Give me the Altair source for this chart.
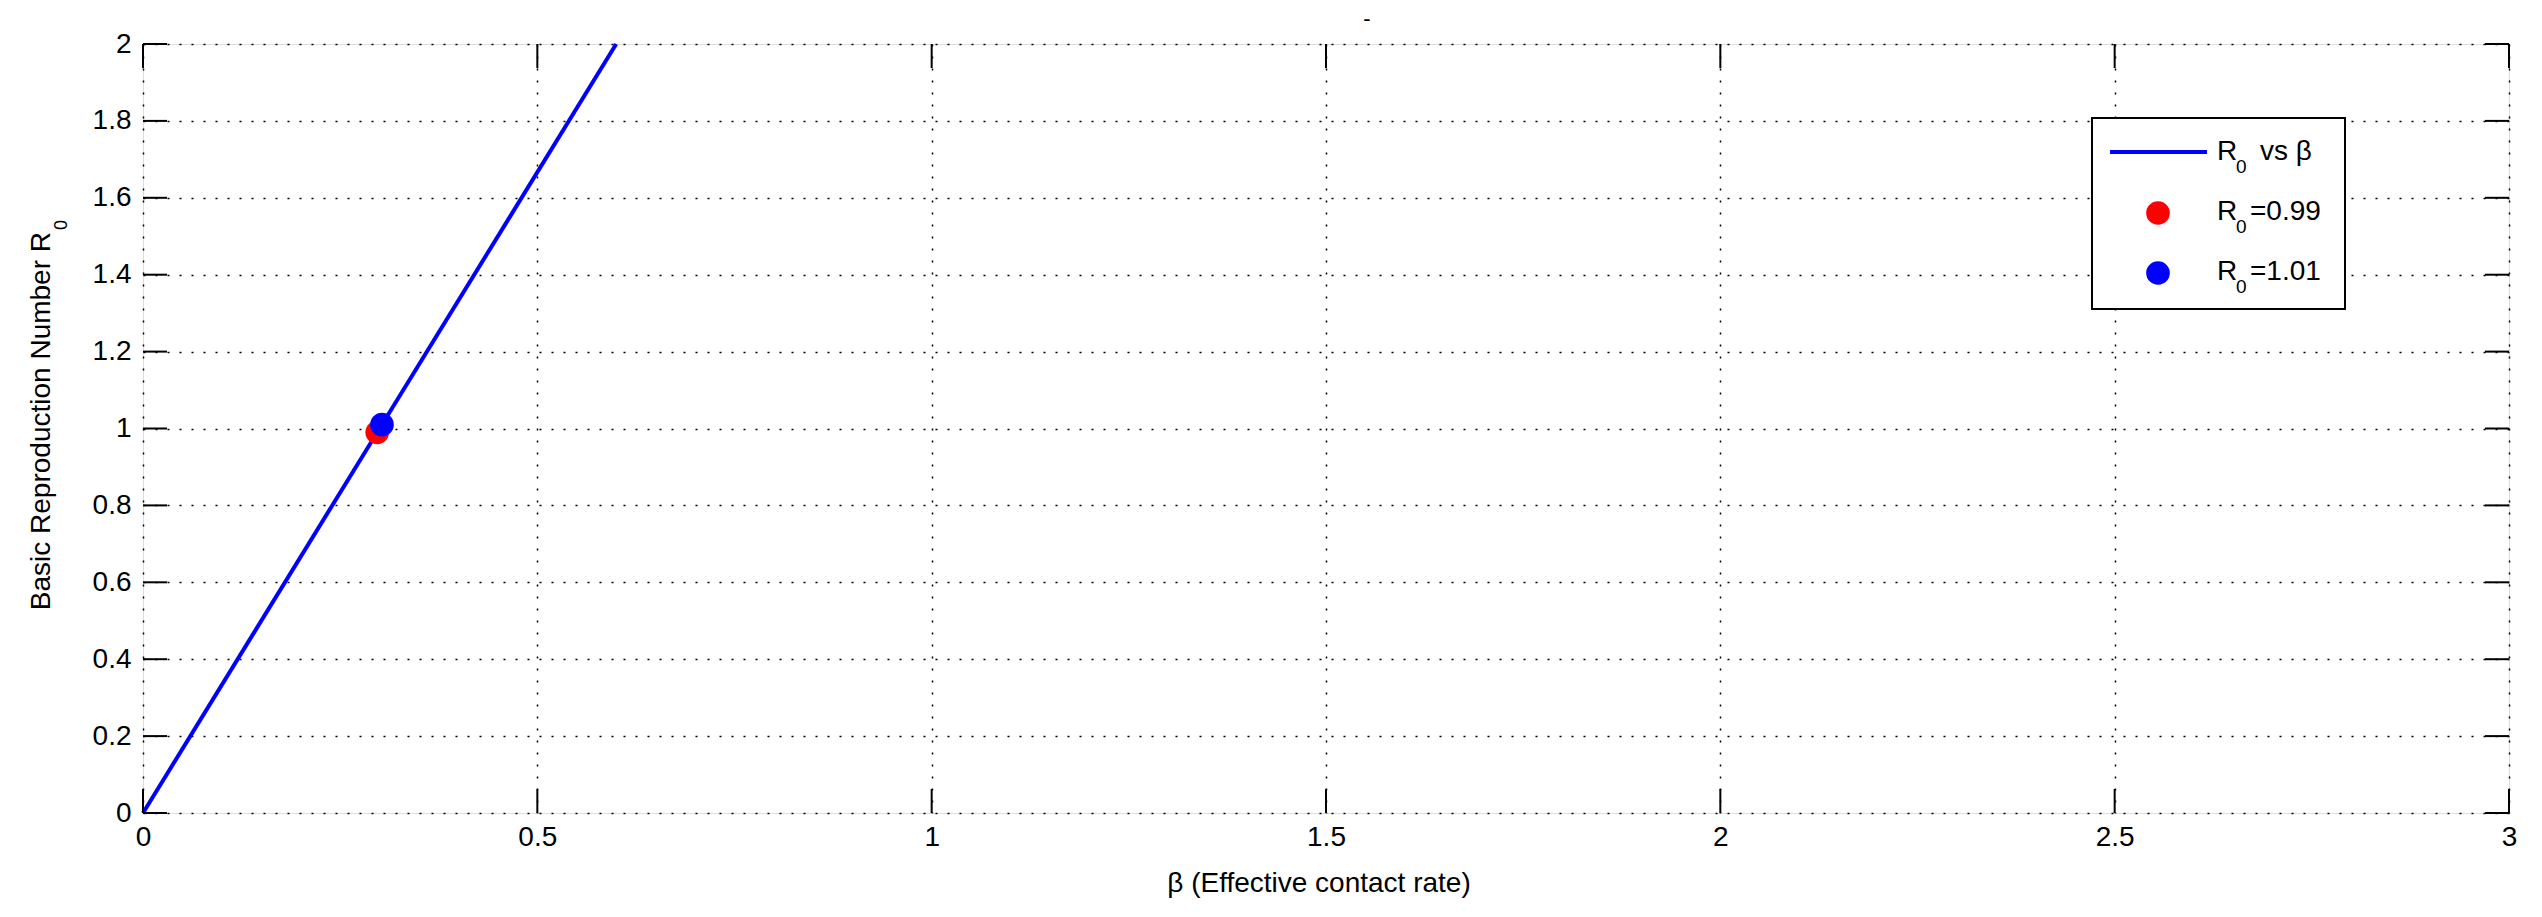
import altair as alt
import pandas as pd

# ---- data ----
beta_line = [0.0, 0.3, 0.6]
r0_line = [0.0, 1.0, 2.0]
pt_beta = [0.297, 0.303]
pt_r0 = [0.99, 1.01]
pt_label = ["R0=0.99", "R0=1.01"]
pt_color = ["#ff0000", "#0000ff"]
x_ticks = [0, 0.5, 1, 1.5, 2, 2.5, 3]
y_ticks = [0, 0.2, 0.4, 0.6, 0.8, 1, 1.2, 1.4, 1.6, 1.8, 2]

W, H = 2366, 769
FONT = "Liberation Sans"
FS = 28

line_df = pd.DataFrame({"beta": beta_line, "r0": r0_line})
pts_df = pd.DataFrame({"beta": pt_beta, "r0": pt_r0, "label": pt_label, "color": pt_color})
xt_df = pd.DataFrame({"v": x_ticks})
yt_df = pd.DataFrame({"v": y_ticks})
one = pd.DataFrame({"d": [0]})

xscale = alt.Scale(domain=[0, 3], nice=False, zero=False)
yscale = alt.Scale(domain=[0, 2], nice=False, zero=False)

xaxis = alt.Axis(values=x_ticks, title=None, ticks=False, domain=False, labelPadding=10,
                 grid=True, gridColor="black", gridDash=[2, 10], gridWidth=1.5, gridOpacity=1,
                 labelFont=FONT, labelFontSize=FS, labelColor="black", labelFlush=False,
                 labelExpr="format(datum.value, '~g')")
yaxis = alt.Axis(values=y_ticks, title=None, ticks=False, domain=False, labelPadding=12,
                 grid=True, gridColor="black", gridDash=[2, 10], gridWidth=1.5, gridOpacity=1,
                 labelFont=FONT, labelFontSize=FS, labelColor="black", labelFlush=False,
                 labelExpr="format(datum.value, '~g')")

base_line = alt.Chart(line_df).mark_line(color="#0000ff", strokeWidth=4).encode(
    x=alt.X("beta:Q", scale=xscale, axis=xaxis),
    y=alt.Y("r0:Q", scale=yscale, axis=yaxis),
)

points = alt.Chart(pts_df).mark_point(filled=True, opacity=1, size=560).encode(
    x=alt.X("beta:Q", scale=xscale),
    y=alt.Y("r0:Q", scale=yscale),
    color=alt.Color("color:N", scale=None, legend=None),
)

# inward tick marks on all four sides
tick_len = 24
xt_bot = alt.Chart(xt_df).mark_rule(color="black", strokeWidth=2).encode(
    x=alt.X("v:Q", scale=xscale), y=alt.value(H), y2=alt.value(H - tick_len))
xt_top = alt.Chart(xt_df).mark_rule(color="black", strokeWidth=2).encode(
    x=alt.X("v:Q", scale=xscale), y=alt.value(0), y2=alt.value(tick_len))
yt_left = alt.Chart(yt_df).mark_rule(color="black", strokeWidth=2).encode(
    y=alt.Y("v:Q", scale=yscale), x=alt.value(0), x2=alt.value(tick_len))
yt_right = alt.Chart(yt_df).mark_rule(color="black", strokeWidth=2).encode(
    y=alt.Y("v:Q", scale=yscale), x=alt.value(W), x2=alt.value(W - tick_len))


def txt(s, x, y, size=FS, align="left", angle=0, baseline="alphabetic"):
    return alt.Chart(one).mark_text(font=FONT, fontSize=size, align=align, baseline=baseline,
                                    angle=angle, color="black").encode(
        x=alt.value(x), y=alt.value(y), text=alt.value(s))


# titles
title = txt("-", 1224, -25, size=22, align="center", baseline="middle")
xtitle = txt("β (Effective contact rate)", 1176, 848, align="center")
ytitle = txt("Basic Reproduction Number R", -93, 188, angle=270, align="right")
ytitle_sub = txt("0", -76, 186, size=18, angle=270, align="left")

# legend
lx0, lx1, ly0, ly1 = 1949, 2202, 74, 265
leg_box = alt.Chart(one).mark_rect(fill="white", stroke="black", strokeWidth=2).encode(
    x=alt.value(lx0), x2=alt.value(lx1), y=alt.value(ly0), y2=alt.value(ly1))
leg_line = alt.Chart(one).mark_rule(color="#0000ff", strokeWidth=4).encode(
    x=alt.value(1967), x2=alt.value(2064), y=alt.value(108))
leg_red = alt.Chart(one).mark_point(filled=True, opacity=1, size=560, color="#ff0000").encode(
    x=alt.value(2015), y=alt.value(169))
leg_blue = alt.Chart(one).mark_point(filled=True, opacity=1, size=560, color="#0000ff").encode(
    x=alt.value(2015), y=alt.value(229))

leg_texts = [
    txt("R", 2074, 116), txt("0", 2093, 129, size=19), txt("vs  β", 2117, 116),
    txt("R", 2074, 176), txt("0", 2093, 189, size=19), txt("=0.99", 2107, 176),
    txt("R", 2074, 236), txt("0", 2093, 249, size=19), txt("=1.01", 2107, 236),
]

chart = alt.layer(
    base_line, points, xt_bot, xt_top, yt_left, yt_right,
    title, xtitle, ytitle, ytitle_sub,
    leg_box, leg_line, leg_red, leg_blue, *leg_texts,
).properties(
    width=W, height=H,
    autosize=alt.AutoSizeParams(type="none"),
    padding={"left": 135, "top": 36, "right": 25, "bottom": 100},
).configure_view(stroke="black", strokeWidth=2).configure(background="white")

chart.save("out.html", embed_options={"renderer": "svg", "actions": False})
